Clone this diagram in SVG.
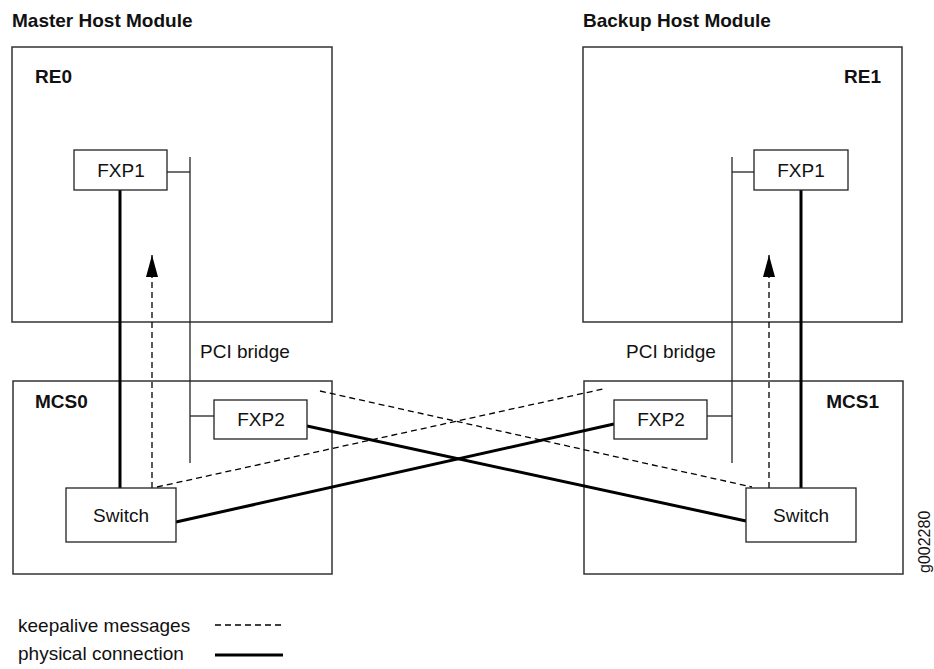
<svg xmlns="http://www.w3.org/2000/svg" width="934" height="669" viewBox="0 0 934 669">
  <style>
    .frame { fill: #fff; stroke: #333; stroke-width: 1.5; }
    .box { fill: #fff; stroke: #222; stroke-width: 1.3; }
    .title { font-family: "Liberation Sans", Arial, sans-serif; font-weight: bold; font-size: 19px; fill: #111; }
    .lbl { font-family: "Liberation Sans", Arial, sans-serif; font-size: 19px; fill: #111; }
    .mid { text-anchor: middle; }
    .end { text-anchor: end; }
    .phys { stroke: #000; stroke-width: 3; fill: none; }
    .keep { stroke: #000; stroke-width: 1.3; stroke-dasharray: 6 4; fill: none; }
    .bus { stroke: #222; stroke-width: 1.3; fill: none; }
  </style>
  <defs>
    <marker id="arrow" markerUnits="userSpaceOnUse" viewBox="0 0 22 12" refX="22" refY="6" markerWidth="22" markerHeight="12" orient="auto">
      <path d="M0,0 L22,6 L0,12 z" fill="#000" stroke="none"/>
    </marker>
  </defs>

  <rect width="934" height="669" fill="#fff"/>

  <!-- module headings -->
  <text class="title" x="12" y="27">Master Host Module</text>
  <text class="title" x="583" y="27">Backup Host Module</text>

  <!-- routing engines -->
  <g id="re0">
    <rect class="frame" x="12" y="47" width="320" height="275"/>
    <text class="title" x="35" y="83">RE0</text>
  </g>
  <g id="re1">
    <rect class="frame" x="583" y="47" width="319" height="275"/>
    <text class="title end" x="881" y="83">RE1</text>
  </g>

  <!-- control boards -->
  <g id="mcs0">
    <rect class="frame" x="13" y="381" width="319" height="193"/>
    <text class="title" x="35" y="408">MCS0</text>
  </g>
  <g id="mcs1">
    <rect class="frame" x="584" y="381" width="319" height="193"/>
    <text class="title end" x="879" y="408">MCS1</text>
  </g>

  <!-- connectors -->
  <g id="connectors">
    <!-- PCI bridges -->
    <line class="bus" x1="190" y1="157" x2="190" y2="463"/>
    <line class="bus" x1="167" y1="172" x2="190" y2="172"/>
    <line class="bus" x1="190" y1="416" x2="214" y2="416"/>
    <line class="bus" x1="732" y1="157" x2="732" y2="463"/>
    <line class="bus" x1="732" y1="172" x2="754" y2="172"/>
    <line class="bus" x1="707" y1="416" x2="732" y2="416"/>

    <!-- physical links -->
    <line class="phys" x1="120" y1="190" x2="120" y2="488"/>
    <line class="phys" x1="801" y1="190" x2="801" y2="488"/>
    <line class="phys" x1="307" y1="426" x2="746" y2="521"/>
    <line class="phys" x1="176" y1="522" x2="614" y2="424"/>

    <!-- keepalive paths -->
    <line class="keep" x1="152" y1="488" x2="152" y2="255" marker-end="url(#arrow)"/>
    <line class="keep" x1="769" y1="488" x2="769" y2="255" marker-end="url(#arrow)"/>
    <line class="keep" x1="320" y1="391" x2="752" y2="487"/>
    <line class="keep" x1="157" y1="487" x2="603" y2="389"/>
  </g>

  <!-- interfaces and switches -->
  <g id="fxp1-re0">
    <rect class="box" x="74" y="150" width="93" height="40"/>
    <text class="lbl mid" x="121" y="177">FXP1</text>
  </g>
  <g id="fxp1-re1">
    <rect class="box" x="754" y="150" width="94" height="40"/>
    <text class="lbl mid" x="801" y="177">FXP1</text>
  </g>
  <g id="fxp2-mcs0">
    <rect class="box" x="214" y="400" width="93" height="39"/>
    <text class="lbl mid" x="261" y="426">FXP2</text>
  </g>
  <g id="fxp2-mcs1">
    <rect class="box" x="614" y="400" width="93" height="39"/>
    <text class="lbl mid" x="661" y="426">FXP2</text>
  </g>
  <g id="switch-mcs0">
    <rect class="box" x="66" y="488" width="110" height="54"/>
    <text class="lbl mid" x="121" y="522">Switch</text>
  </g>
  <g id="switch-mcs1">
    <rect class="box" x="746" y="488" width="110" height="54"/>
    <text class="lbl mid" x="801" y="522">Switch</text>
  </g>

  <!-- bridge labels -->
  <text class="lbl" x="200" y="358">PCI bridge</text>
  <text class="lbl" x="626" y="358">PCI bridge</text>

  <!-- figure number -->
  <text class="lbl" font-size="16" transform="translate(930,573) rotate(-90)" style="font-size:16px">g002280</text>

  <!-- legend -->
  <g id="legend">
    <text class="lbl" x="18" y="632">keepalive messages</text>
    <line class="keep" x1="215" y1="625" x2="285" y2="625" stroke-dasharray="5 5"/>
    <text class="lbl" x="18" y="660">physical connection</text>
    <line class="phys" x1="215" y1="655" x2="283" y2="655"/>
  </g>
</svg>
